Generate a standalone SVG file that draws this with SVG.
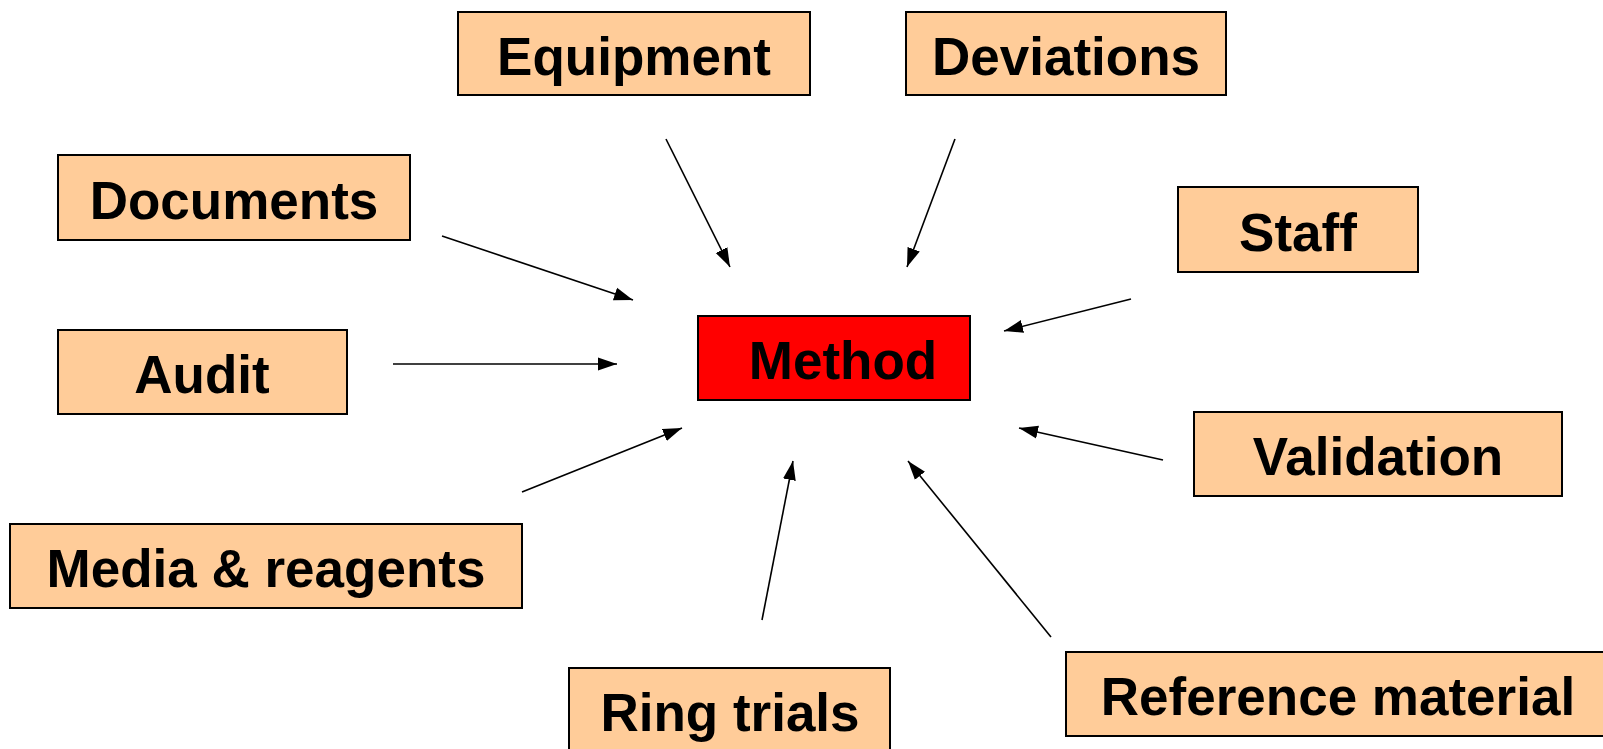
<svg xmlns="http://www.w3.org/2000/svg" width="1603" height="749" viewBox="0 0 1603 749">
<style>
.box{fill:#FFCC99;stroke:#000;stroke-width:2}
.red{fill:#FF0000;stroke:#000;stroke-width:2}
.lbl{font-family:"Liberation Sans",Arial,sans-serif;font-weight:bold;font-size:53px;fill:#000;text-anchor:middle}
.con{stroke:#000;stroke-width:1.6;fill:none;marker-end:url(#ah)}
</style>
<defs>
<marker id="ah" markerUnits="userSpaceOnUse" markerWidth="20" markerHeight="16" viewBox="0 0 20 16" refX="19" refY="8" orient="auto">
<path d="M0,1.5 L19,8 L0,14.5 Z" fill="#000"/>
</marker>
</defs>
<rect width="1603" height="749" fill="#fff"/>
<g id="connectors">
<line class="con" x1="666" y1="139" x2="730" y2="267"/>
<line class="con" x1="955" y1="139" x2="907" y2="267"/>
<line class="con" x1="442" y1="236" x2="633" y2="300"/>
<line class="con" x1="393" y1="364" x2="617" y2="364"/>
<line class="con" x1="1131" y1="299" x2="1004" y2="331"/>
<line class="con" x1="1163" y1="460" x2="1019" y2="428"/>
<line class="con" x1="522" y1="492" x2="682" y2="428"/>
<line class="con" x1="762" y1="620" x2="793" y2="461"/>
<line class="con" x1="1051" y1="637" x2="908" y2="461"/>
</g>
<g id="equipment"><rect class="box" x="458" y="12" width="352" height="83"/><text class="lbl" x="634" y="75">Equipment</text></g>
<g id="deviations"><rect class="box" x="906" y="12" width="320" height="83"/><text class="lbl" x="1066" y="75">Deviations</text></g>
<g id="documents"><rect class="box" x="58" y="155" width="352" height="85"/><text class="lbl" x="234" y="219">Documents</text></g>
<g id="staff"><rect class="box" x="1178" y="187" width="240" height="85"/><text class="lbl" x="1298" y="251">Staff</text></g>
<g id="method"><rect class="red" x="698" y="316" width="272" height="84"/><text class="lbl" x="843" y="379">Method</text></g>
<g id="audit"><rect class="box" x="58" y="330" width="289" height="84"/><text class="lbl" x="202" y="393">Audit</text></g>
<g id="validation"><rect class="box" x="1194" y="412" width="368" height="84"/><text class="lbl" x="1378" y="475">Validation</text></g>
<g id="media"><rect class="box" x="10" y="524" width="512" height="84"/><text class="lbl" x="266" y="587">Media &amp; reagents</text></g>
<g id="ringtrials"><rect class="box" x="569" y="668" width="321" height="90"/><text class="lbl" x="730" y="731">Ring trials</text></g>
<g id="reference"><rect class="box" x="1066" y="652" width="545" height="84"/><text class="lbl" x="1338" y="715">Reference material</text></g>
</svg>
